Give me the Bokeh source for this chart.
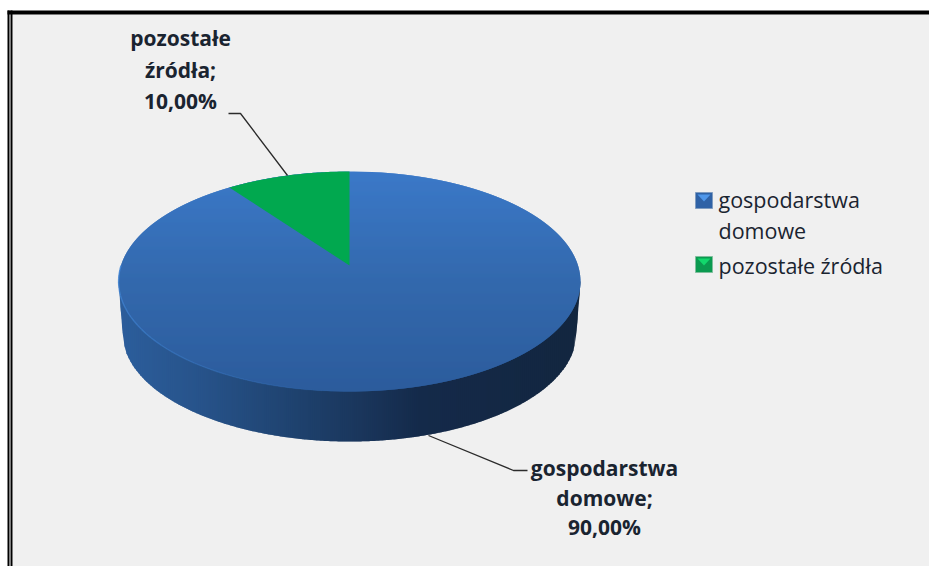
import numpy as np
from bokeh.plotting import figure
from bokeh.models import Range1d
from bokeh.core.properties import value
from bokeh.embed import file_html
from bokeh.resources import INLINE

categories = ["gospodarstwa domowe", "pozostałe źródła"]
shares = [90.0, 10.0]
label_lines = [["gospodarstwa", "domowe;"], ["pozostałe", "źródła;"]]
legend_lines = [["gospodarstwa", "domowe"], ["pozostałe źródła"]]

FONT = "Open Sans"
TEXT = "#1a2430"
p = figure(width=929, height=566, output_backend="svg", toolbar_location=None,
           x_range=Range1d(0, 929), y_range=Range1d(566, 0),
           min_border=0, background_fill_color="white", border_fill_color="white",
           outline_line_color=None)
p.axis.visible = False
p.grid.visible = False

# frame
p.quad(left=[12], right=[929], top=[14], bottom=[566], fill_color="#f0f0f0", line_color=None)
p.quad(left=[7, 7, 10], right=[929, 9, 12], top=[10, 10, 10], bottom=[14, 566, 566],
       fill_color="black", line_color=None)

# perspective pie: projection of a unit circle
CX, CY, A, B, K = 349.0, 265.0, 228.5, 107.7, 0.1455
DEPTH_CY, DEPTH_A, DEPTH_B = 317.0, 224.5, 106.0


def proj(theta, cy=CY, a=A, b=B):
    u, v = np.sin(theta), np.cos(theta)
    d = 1 + K * v
    return CX + a * u / d, cy - b * v / d


def hex_mix(stops, t):
    xs = [s[0] for s in stops]
    rgb = [np.interp(t, xs, [int(s[1][i:i + 2], 16) for s in stops]) for i in (1, 3, 5)]
    return "#%02x%02x%02x" % tuple(int(round(c)) for c in rgb)


# side wall, vertical strips painted left to right, each overlapping the next
side_stops = [(118, "#2c5e9c"), (200, "#27538a"), (300, "#1e416d"), (360, "#1a365c"),
              (420, "#142a4a"), (580, "#13263f")]
t = np.linspace(np.pi * 0.5, np.pi * 1.5, 3000)
bx, by = proj(t, DEPTH_CY, DEPTH_A, DEPTH_B)
order = np.argsort(bx)
left_edge, right_edge = CX - 231.0, CX + 231.0


def wall_bottom(x):
    if x < bx.min():
        return float(np.interp(x, [left_edge, bx.min()], [281.0, by[order][0]]))
    if x > bx.max():
        return float(np.interp(x, [bx.max(), right_edge], [by[order][-1], 281.0]))
    return float(np.interp(x, bx[order], by[order]))


xs_s, ys_s, cs_s = [], [], []
for x0 in np.arange(left_edge, right_edge, 2.0):
    x1 = min(x0 + 2.0, right_edge)
    x2 = min(x0 + 3.0, right_edge)
    xs_s.append([x0, x1, x2, x2, x1, x0])
    ys_s.append([281, 281, 281, wall_bottom(x2), wall_bottom(x1), wall_bottom(x0)])
    cs_s.append(hex_mix(side_stops, x0 + 1))
p.patches(xs_s, ys_s, fill_color=cs_s, line_color=None)

# top of the pie, horizontal strips painted top to bottom, overlapping
top_stops = [(171, "#3b79c8"), (280, "#3369ad"), (391, "#2c5c9c")]


def half_width(y):
    d = (CY - y) / B
    v = np.clip(d / (1 - K * d), -1, 1)
    return A * np.sqrt(1 - v * v) / (1 + K * v)


xs_t, ys_t, cs_t = [], [], []
for y0 in np.arange(171.0, 391.0, 1.0):
    ys = np.linspace(y0, min(y0 + 2.0, 391.0), 5)
    hs = half_width(ys)
    xs_t.append([*(CX - hs), *(CX + hs)[::-1]])
    ys_t.append([*ys, *ys[::-1]])
    cs_t.append(hex_mix(top_stops, y0 + 0.5))
p.patches(xs_t, ys_t, fill_color=cs_t, line_color=None)

# light rim on the front left
rim = np.linspace(np.pi * 1.5, np.pi * 1.02, 40)
rx, ry = proj(rim)
p.multi_line([[rx[i], rx[i + 1]] for i in range(39)], [[ry[i], ry[i + 1]] for i in range(39)],
             line_color="#4488d8", line_width=1.4, line_alpha=list(np.linspace(0.8, 0.05, 39)))

# green slice, swept back from twelve o'clock by its share
sweep = np.linspace(-2 * np.pi * shares[1] / sum(shares), 0, 60)
gx, gy = proj(sweep)
p.patch([CX, *gx], [CY, *gy], fill_color="#01a84f", line_color=None)

# leader lines
p.line([428, 513, 527], [435, 470, 470], line_color="#2b2b2b", line_width=1.3)
p.line([228, 240, 287], [113, 113, 175], line_color="#2b2b2b", line_width=1.3)

# data labels
shown = [f"{s:.2f}".replace(".", ",") + "%" for s in shares]
big = dict(text_font=value(FONT), text_font_size="21px", text_font_style="bold", text_color=TEXT,
           text_align="center", text_baseline="middle")
p.text([604, 604, 604], [467, 497, 526], text=[*label_lines[0], shown[0]], **big)
p.text([180, 180, 180], [37, 69, 100], text=[*label_lines[1], shown[1]], **big)

# legend
leg = dict(text_font=value(FONT), text_font_size="21.5px", text_color=TEXT,
           text_align="left", text_baseline="middle")
p.text([718, 718, 718], [199, 230, 265], text=[*legend_lines[0], *legend_lines[1]], **leg)
p.quad(left=[695, 695], right=[712, 712], top=[192, 256], bottom=[208, 272],
       fill_color=["#2f62a6", "#0b9a50"], line_color=["#7f9cc0", "#7fbf9c"], line_width=1)
p.patches([[697, 710, 703.5], [697, 710, 703.5]], [[194, 194, 201], [258, 258, 265]],
          fill_color=["#4f97ea", "#12d86c"], line_color=None)

open("out.html", "w").write(file_html(p, INLINE))
